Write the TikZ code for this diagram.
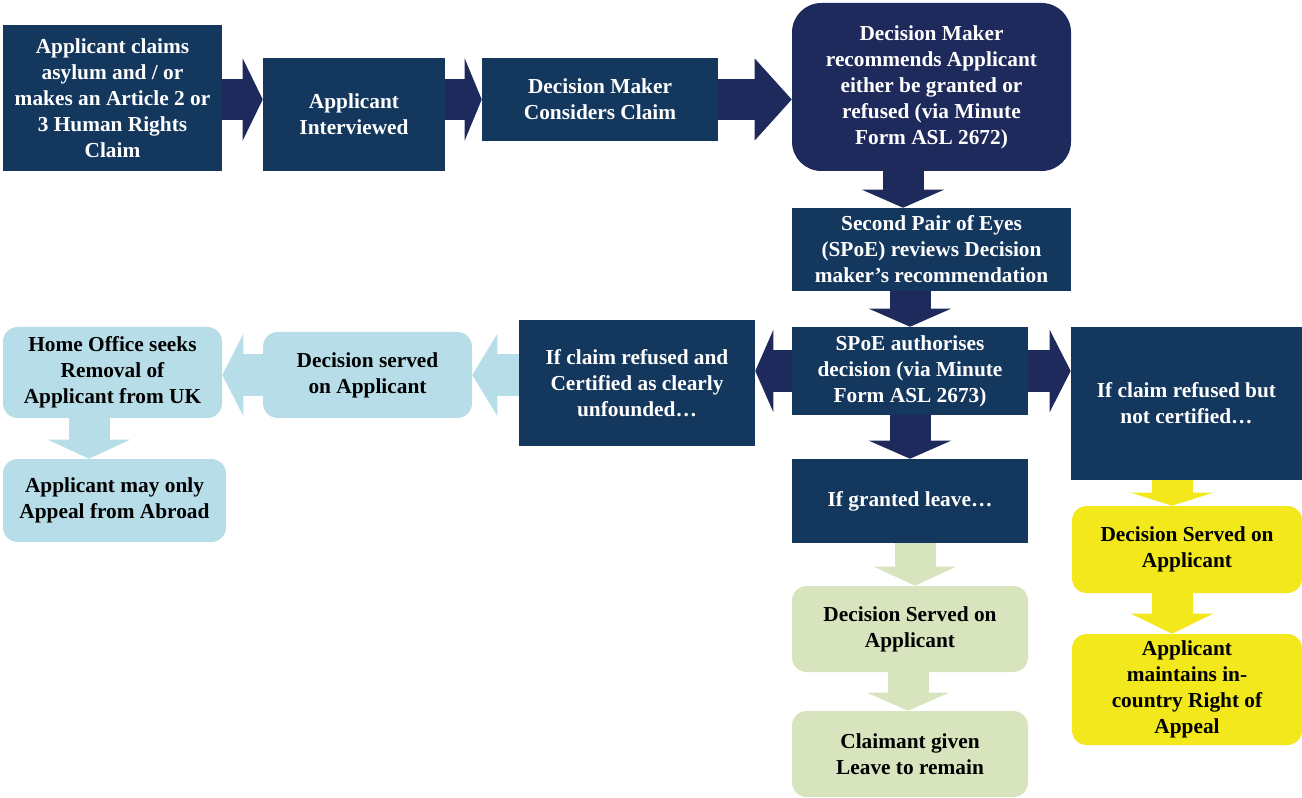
\documentclass[tikz,border=0pt]{standalone}
\usepackage{fontspec}
\setmainfont{Liberation Serif}
\usepackage{tikz}
\usetikzlibrary{positioning}
\usetikzlibrary{arrows.meta,calc}
\usepackage{xcolor}

\definecolor{navybox}{HTML}{14375E}
\definecolor{indigo}{HTML}{1F2A5C}
\definecolor{paleblue}{HTML}{B7DEE8}
\definecolor{palegreen}{HTML}{D7E4BD}
\definecolor{lemon}{HTML}{F2E81C}

\begin{document}
\begin{tikzpicture}[x=0.75pt,y=-0.75pt,
  box/.style={rectangle,inner sep=0pt,align=center,font=\bfseries\fontsize{16}{19.5}\selectfont},
  darkbox/.style={box,fill=navybox,text=white},
  softbox/.style={box,rounded corners=11pt,text=black},
  blockarrow/.style={line width=30.75pt,-{Triangle[length=#1,width=61.5pt,line width=0pt]}},
]
\useasboundingbox (0,0) rectangle (1302,798);

% top row
\node[darkbox,minimum width=164.25pt,minimum height=109.5pt] (claim) at (112.5,98)
  {Applicant claims\\asylum and / or\\makes an Article 2 or\\3 Human Rights\\Claim};
\node[darkbox,minimum width=136.5pt,minimum height=84.75pt] (interview) at (354,114.5)
  {Applicant\\Interviewed};
\node[darkbox,minimum width=177pt,minimum height=62.25pt] (consider) at (600,99.5)
  {Decision Maker\\Considers Claim};
\node[box,fill=indigo,text=white,rounded corners=22pt,minimum width=209.25pt,minimum height=126pt] (recommend) at (931.5,87)
  {Decision Maker\\recommends Applicant\\either be granted or\\refused (via Minute\\Form ASL 2672)};

% middle column
\node[darkbox,minimum width=209.25pt,minimum height=62.25pt] (review) at (931.5,249.5)
  {Second Pair of Eyes\\(SPoE) reviews Decision\\maker’s recommendation};
\node[darkbox,minimum width=177pt,minimum height=66pt] (authorise) at (910,371)
  {SPoE authorises\\decision (via Minute\\Form ASL 2673)};
\node[darkbox,minimum width=177pt,minimum height=94.5pt] (certified) at (637,383)
  {If claim refused and\\Certified as clearly\\unfounded…};
\node[darkbox,minimum width=173.25pt,minimum height=114.75pt] (notcert) at (1186.5,403.5)
  {If claim refused but\\not certified…};
\node[darkbox,minimum width=177pt,minimum height=63pt] (granted) at (910,501)
  {If granted leave…};

% certified branch
\node[softbox,fill=paleblue,minimum width=156.75pt,minimum height=64.5pt] (servedC) at (367.5,375)
  {Decision served\\on Applicant};
\node[softbox,fill=paleblue,minimum width=164.25pt,minimum height=68.25pt] (removal) at (112.5,372.5)
  {Home Office seeks\\Removal of\\Applicant from UK};
\node[softbox,fill=paleblue,minimum width=167.25pt,minimum height=62.25pt] (abroad) at (114.5,500.5)
  {Applicant may only\\Appeal from Abroad};

% granted branch
\node[softbox,fill=palegreen,minimum width=177pt,minimum height=64.5pt] (servedG) at (910,629)
  {Decision Served on\\Applicant};
\node[softbox,fill=palegreen,minimum width=177pt,minimum height=64.5pt] (leave) at (910,754)
  {Claimant given\\Leave to remain};

% not certified branch
\node[softbox,fill=lemon,minimum width=172.5pt,minimum height=65.25pt] (servedN) at (1187,549.5)
  {Decision Served on\\Applicant};
\node[softbox,fill=lemon,minimum width=172.5pt,minimum height=83.25pt] (incountry) at (1187,689.5)
  {Applicant\\maintains in-\\country Right of\\Appeal};

% arrows
\draw[blockarrow=15pt,indigo] (claim.east |- consider) -- (interview.west |- consider);
\draw[blockarrow=12.75pt,indigo] (interview.east |- consider) -- (consider.west);
\draw[blockarrow=27.75pt,indigo] (consider.east) -- (recommend.west |- consider);
\draw[blockarrow=13.5pt,indigo] ($(recommend.south)+(-28.5,0)$) -- ($(review.north)+(-28.5,0)$);
\draw[blockarrow=13.5pt,indigo] (review.south -| authorise) -- (authorise.north);
\draw[blockarrow=13.5pt,indigo] (authorise.west) -- (certified.east |- authorise);
\draw[blockarrow=15.75pt,indigo] (authorise.east) -- (notcert.west |- authorise);
\draw[blockarrow=13.5pt,indigo] (authorise.south) -- (granted.north);

\draw[blockarrow=18.75pt,paleblue] (certified.west |- servedC) -- (servedC.east);
\draw[blockarrow=15.75pt,paleblue] (servedC.west) -- (removal.east |- servedC);
\draw[blockarrow=14.25pt,paleblue] ($(removal.south)+(-23.5,0)$) -- ($(abroad.north)+(-25.5,0)$);

\draw[blockarrow=14.25pt,palegreen] ($(granted.south)+(5,0)$) -- ($(servedG.north)+(5,0)$);
\draw[blockarrow=13.5pt,palegreen] ($(servedG.south)+(-2,0)$) -- ($(leave.north)+(-2,0)$);

\draw[blockarrow=9.75pt,lemon] ($(notcert.south)+(-14.5,0)$) -- ($(servedN.north)+(-15,0)$);
\draw[blockarrow=15pt,lemon] ($(servedN.south)+(-15,0)$) -- ($(incountry.north)+(-15,0)$);

\end{tikzpicture}
\end{document}
